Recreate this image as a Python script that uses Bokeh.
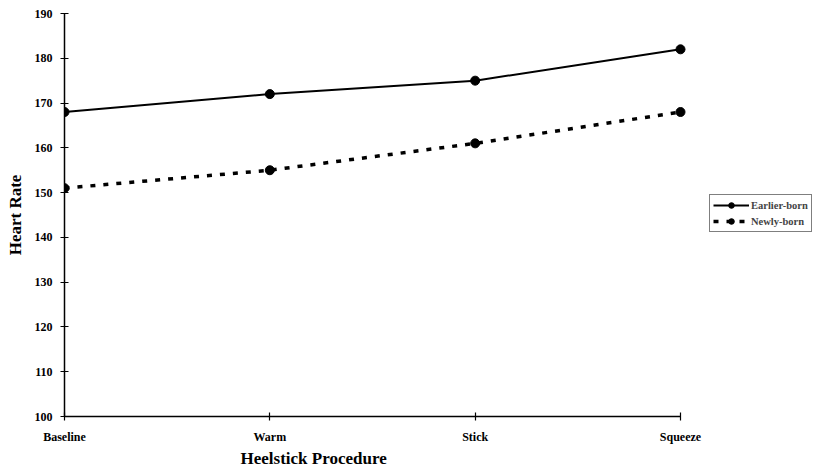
from bokeh.plotting import figure
from bokeh.models import Range1d, FixedTicker, Legend, LegendItem, Title
from bokeh.embed import file_html
from bokeh.resources import INLINE

procedures = ["Baseline", "Warm", "Stick", "Squeeze"]
earlier_born = [168, 172, 175, 182]
newly_born = [151, 155, 161, 168]
y_ticks = [100, 110, 120, 130, 140, 150, 160, 170, 180, 190]

xs = list(range(len(procedures)))
FONT = "Liberation Serif"

W, H = 812, 467
LEFT, TOP, BOTTOM = 64, 13, 50
AXIS_RIGHT = 680  # pixel where the last category sits
last = len(procedures) - 1
x_end = last * (W - LEFT) / (AXIS_RIGHT - LEFT)

p = figure(width=W, height=H, output_backend="svg", toolbar_location=None,
           x_range=Range1d(0, x_end), y_range=Range1d(100, 190),
           min_border_left=LEFT, min_border_right=0, min_border_top=TOP, min_border_bottom=BOTTOM)
p.outline_line_color = None
p.xgrid.visible = False
p.ygrid.visible = False
p.background_fill_color = "white"

l1 = p.line(xs, earlier_born, line_color="black", line_width=2)
c1 = p.scatter(xs, earlier_born, size=9, color="black")
l2 = p.line(xs, newly_born, line_color="black", line_width=3.5, line_dash="5 8")
c2 = p.scatter(xs, newly_born, size=9, color="black")

for ax in (p.xaxis[0], p.yaxis[0]):
    ax.axis_line_color = "black"
    ax.axis_line_width = 1.5
    ax.major_tick_line_color = "black"
    ax.major_tick_line_width = 1.2
    ax.major_tick_in = 4
    ax.major_tick_out = 4
    ax.minor_tick_line_color = None
    ax.major_label_text_font = FONT
    ax.major_label_text_font_style = "bold"
    ax.major_label_text_font_size = "12px"
    ax.major_label_text_color = "black"
    ax.axis_label_text_font = FONT
    ax.axis_label_text_font_style = "bold"
    ax.axis_label_text_font_size = "17px"
    ax.axis_label_text_color = "black"

p.xaxis.bounds = (0, last)
p.xaxis.ticker = FixedTicker(ticks=xs)
p.xaxis.major_label_overrides = {i: s for i, s in enumerate(procedures)}
p.xaxis.major_label_standoff = 9

p.yaxis.ticker = FixedTicker(ticks=y_ticks)
p.yaxis.major_label_standoff = 8
p.yaxis.axis_label = "Heart Rate"
p.yaxis.axis_label_standoff = 7

xlabel = Title(text="Heelstick Procedure", align="left", offset=176,
               text_font=FONT, text_font_style="bold", text_font_size="17px",
               text_color="black", standoff=0)
p.add_layout(xlabel, "below")

legend = Legend(items=[LegendItem(label="Earlier-born", renderers=[l1, c1]),
                       LegendItem(label="Newly-born", renderers=[l2, c2])],
                location=(645, 184))
legend.label_text_font = FONT
legend.label_text_font_style = "bold"
legend.label_text_font_size = "10.5px"
legend.border_line_color = "black"
legend.border_line_width = 1.5
legend.background_fill_alpha = 1
legend.glyph_width = 36
legend.glyph_height = 14
legend.label_height = 14
legend.padding = 3
legend.spacing = 2
legend.margin = 0
legend.label_standoff = 2
p.add_layout(legend, "center")

open("out.html", "w").write(file_html(p, INLINE))
